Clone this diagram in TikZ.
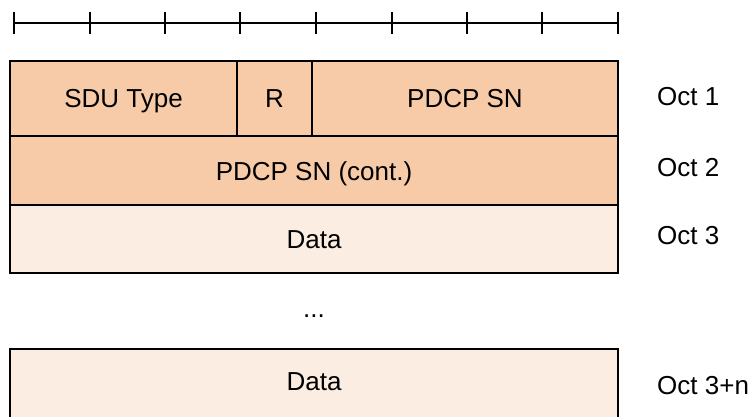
\documentclass[tikz,border=0pt]{standalone}
\usepackage{fontspec}
\setmainfont{Liberation Sans}
\usepackage{xcolor}

\definecolor{cabec}{RGB}{248,203,168}
\definecolor{dados}{RGB}{252,237,226}

\begin{document}
\begin{tikzpicture}[x=1pt, y=-1pt]
        \tikzstyle{campo}=[draw=black, line width=1.5pt, rectangle, inner sep=0pt, outer sep=0pt, text height=19pt, text depth=0pt, font=\fontsize{26}{30}\selectfont]
        \tikzstyle{octeto}=[anchor=west, inner sep=0pt, font=\fontsize{26}{30}\selectfont]

        \clip (0,0) rectangle (754,417);

        % regua dos bits
        \coordinate (A) at (14,23);
        \coordinate (B) at (618,23);
        \draw[line width=1.5pt] (A) -- (B);
        \foreach \x in {14,90,165,240,316,392,467,542,618}
          \draw[line width=1.5pt] (\x,12) -- (\x,34);

        % octeto 1
        \node[campo, fill=cabec, minimum width=227pt, minimum height=75pt, anchor=north west] (tipo) at (10,61) {SDU Type};
        \node[campo, fill=cabec, minimum width=75pt, minimum height=75pt, anchor=north west] (res) at (tipo.north east) {R};
        \node[campo, fill=cabec, minimum width=306pt, minimum height=75pt, anchor=north west] (sn) at (res.north east) {PDCP SN};

        % octeto 2 e 3
        \node[campo, fill=cabec, minimum width=608pt, minimum height=69pt, anchor=north west] (sncont) at (tipo.south west) {PDCP SN (cont.)};
        \node[campo, fill=dados, minimum width=608pt, minimum height=68pt, anchor=north west] (dado) at (sncont.south west) {Data};

        \node[inner sep=0pt, font=\fontsize{26}{30}\selectfont] (pontos) at (314,316) {...};

        % ultimo octeto
        \node[campo, fill=dados, minimum width=608pt, minimum height=80pt, anchor=north west] (dadon) at (10,349) {};
        \node[inner sep=0pt, text height=19pt, text depth=0pt, font=\fontsize{26}{30}\selectfont] (dadontxt) at (314,381) {Data};

        \node[octeto] (o1) at (657,97) {Oct 1};
        \node[octeto] (o2) at (657,168) {Oct 2};
        \node[octeto] (o3) at (657,236) {Oct 3};
        \node[octeto] (on) at (657,386) {Oct 3+n};
      \end{tikzpicture}
\end{document}
